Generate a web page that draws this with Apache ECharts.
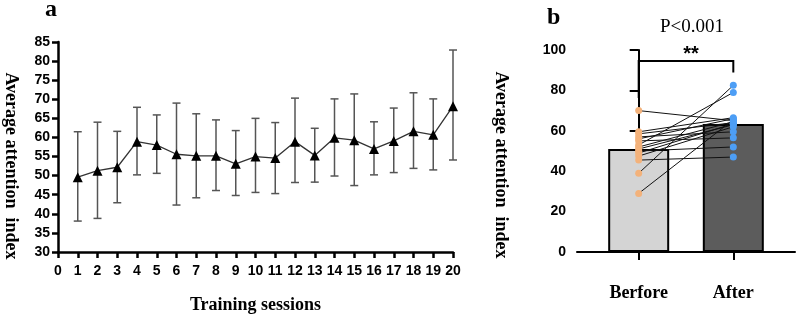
<!DOCTYPE html>
<html>
<head>
<meta charset="utf-8">
<script src="https://cdn.jsdelivr.net/npm/echarts@6/dist/echarts.min.js"></script>
<style>
  html, body { margin: 0; padding: 0; background: #fff; }
  #chart { width: 797px; height: 315px; }
</style>
</head>
<body>
<div id="chart"></div>
<script>
// panel a: attention index per training session (mean with error bar)
const sessions = [1, 2, 3, 4, 5, 6, 7, 8, 9, 10, 11, 12, 13, 14, 15, 16, 17, 18, 19, 20];
const sessionMean = [49.6, 51.3, 52.2, 58.9, 58.0, 55.6, 55.2, 55.2, 53.1, 55.0, 54.6, 58.9, 55.3, 59.9, 59.3, 57.0, 59.1, 61.6, 60.7, 68.2];
const sessionLow = [38.1, 38.8, 42.9, 50.2, 50.6, 42.3, 44.2, 46.1, 44.8, 45.6, 45.3, 48.2, 48.3, 49.9, 47.4, 50.2, 50.8, 51.9, 51.5, 54.1];
const sessionHigh = [61.5, 64.0, 61.6, 67.9, 65.9, 69.0, 66.2, 64.6, 61.8, 65.0, 63.9, 70.3, 62.4, 70.1, 71.4, 64.1, 67.7, 71.7, 70.1, 82.9];

// panel b: before / after comparison
const groups = ['Berfore', 'After'];
const groupMean = [51.0, 63.4];
const beforeVals = [70, 59.5, 58.5, 57, 56, 55, 53, 52, 51, 50, 49, 47.5, 45.5, 39, 29];
const afterVals = [65, 66.5, 64, 59.5, 66, 56.5, 79, 64.5, 63, 52, 63.5, 62, 47, 82.5, 65.5];
const bracket = [76.2, 94.6, 88.9]; // left leg end, top, right leg end
const pText = 'P<0.001';
const sigText = '**';

const serif = '"Liberation Serif", "Times New Roman", serif';
const sans = '"Liberation Sans", Arial, sans-serif';

const chart = echarts.init(document.getElementById('chart'));

const tickLabel = { color: '#000', fontFamily: sans, fontWeight: 'bold', fontSize: 14 };
const axisName = { color: '#000', fontFamily: serif, fontWeight: 'bold', fontSize: 18 };

const option = {
  animation: false,
  title: [
    { text: 'a', left: 40, top: -7, textStyle: { fontFamily: serif, fontWeight: 'bold', fontSize: 24, color: '#000' } },
    { text: 'b', left: 542, top: 1, textStyle: { fontFamily: serif, fontWeight: 'bold', fontSize: 24, color: '#000' } },
    { text: pText, left: 687, top: 13, textAlign: 'center', textStyle: { fontFamily: serif, fontWeight: 'normal', fontSize: 19, color: '#000' } },
    { text: sigText, left: 686, top: 39, textAlign: 'center', textStyle: { fontFamily: sans, fontWeight: 'bold', fontSize: 20, color: '#000' } }
  ],
  grid: [
    { left: 58, top: 42, width: 395, height: 210, outerBoundsMode: 'none', containLabel: false },
    { left: 577, top: 50, width: 218, height: 202, outerBoundsMode: 'none', containLabel: false }
  ],
  xAxis: [
    {
      gridIndex: 0, type: 'value', min: 0, max: 20, interval: 1,
      name: 'Training sessions', nameLocation: 'middle', nameGap: 44,
      nameTextStyle: { color: '#000', fontFamily: serif, fontWeight: 'bold', fontSize: 18 },
      axisLine: { lineStyle: { color: '#000', width: 2.5 } },
      axisTick: { length: 6, lineStyle: { color: '#000', width: 2.5 } },
      axisLabel: Object.assign({ margin: 12 }, tickLabel),
      splitLine: { show: false }
    },
    {
      gridIndex: 1, type: 'value', min: -0.652, max: 1.652,
      axisLine: { lineStyle: { color: '#000', width: 2 } },
      axisTick: { customValues: [0, 1], length: 8, lineStyle: { color: '#000', width: 2 } },
      axisLabel: {
        customValues: [0, 1], margin: 32, color: '#000', fontFamily: serif, fontWeight: 'bold', fontSize: 18,
        formatter: (v) => groups[Math.round(v)]
      },
      splitLine: { show: false }
    }
  ],
  yAxis: [
    {
      gridIndex: 0, type: 'value', min: 30, max: 85, interval: 5,
      name: 'Average attention  index', nameLocation: 'middle', nameGap: 38, nameRotate: -90,
      nameTextStyle: Object.assign({ padding: [0, 0, 0, 38] }, axisName),
      axisLine: { show: true, lineStyle: { color: '#000', width: 2.5 } },
      axisTick: { show: true, length: 6, lineStyle: { color: '#000', width: 2.5 } },
      axisLabel: Object.assign({ margin: 8 }, tickLabel),
      splitLine: { show: false }
    },
    {
      gridIndex: 1, type: 'value', min: 0, max: 100, interval: 20,
      name: 'Average attention  index', nameLocation: 'middle', nameGap: 67, nameRotate: -90,
      nameTextStyle: Object.assign({ padding: [0, 0, 0, 28] }, axisName),
      axisLine: { show: true, lineStyle: { color: '#000', width: 2 } },
      axisTick: { show: true, length: 9, lineStyle: { color: '#000', width: 2 } },
      axisLabel: Object.assign({ margin: 11 }, tickLabel),
      splitLine: { show: false }
    }
  ],
  series: [
    {
      type: 'custom',
      xAxisIndex: 0, yAxisIndex: 0,
      data: sessions.map((s, i) => [s, sessionLow[i], sessionHigh[i]]),
      renderItem: function (params, api) {
        const lo = api.coord([api.value(0), api.value(1)]);
        const hi = api.coord([api.value(0), api.value(2)]);
        const w = 4;
        const style = { stroke: '#555', lineWidth: 1.5 };
        return {
          type: 'group',
          children: [
            { type: 'line', shape: { x1: hi[0], y1: hi[1], x2: lo[0], y2: lo[1] }, style: style },
            { type: 'line', shape: { x1: hi[0] - w, y1: hi[1], x2: hi[0] + w, y2: hi[1] }, style: style },
            { type: 'line', shape: { x1: lo[0] - w, y1: lo[1], x2: lo[0] + w, y2: lo[1] }, style: style }
          ]
        };
      },
      z: 2
    },
    {
      type: 'line',
      xAxisIndex: 0, yAxisIndex: 0,
      data: sessions.map((s, i) => [s, sessionMean[i]]),
      symbol: 'triangle', symbolSize: 10,
      lineStyle: { color: '#333', width: 1.3 },
      itemStyle: { color: '#000' },
      z: 3
    },
    {
      type: 'bar',
      xAxisIndex: 1, yAxisIndex: 1,
      barWidth: 61,
      data: [
        { value: [0, groupMean[0]], itemStyle: { color: '#d4d4d4' } },
        { value: [1, groupMean[1]], itemStyle: { color: '#5c5c5c' } }
      ],
      itemStyle: { borderColor: '#000', borderWidth: 2 },
      z: 1
    },
    {
      type: 'custom',
      xAxisIndex: 1, yAxisIndex: 1,
      data: beforeVals.map((b, i) => [b, afterVals[i]]),
      renderItem: function (params, api) {
        const p1 = api.coord([0, api.value(0)]);
        const p2 = api.coord([1, api.value(1)]);
        return { type: 'line', shape: { x1: p1[0], y1: p1[1], x2: p2[0], y2: p2[1] }, style: { stroke: '#111', lineWidth: 1 } };
      },
      z: 3
    },
    {
      type: 'scatter',
      xAxisIndex: 1, yAxisIndex: 1,
      data: beforeVals.map((v) => [0, v]),
      symbolSize: 7,
      itemStyle: { color: '#f3b27b', opacity: 1 },
      z: 4
    },
    {
      type: 'scatter',
      xAxisIndex: 1, yAxisIndex: 1,
      data: afterVals.map((v) => [1, v]),
      symbolSize: 7,
      itemStyle: { color: '#4d9ef5', opacity: 1 },
      z: 4
    },
    {
      type: 'custom',
      xAxisIndex: 1, yAxisIndex: 1,
      data: [bracket],
      renderItem: function (params, api) {
        const a = api.coord([0, api.value(0)]);
        const b = api.coord([0, api.value(1)]);
        const c = api.coord([1, api.value(1)]);
        const d = api.coord([1, api.value(2)]);
        return { type: 'polyline', shape: { points: [a, b, c, d] }, style: { stroke: '#000', lineWidth: 2, fill: null } };
      },
      z: 5
    }
  ]
};

chart.setOption(option);
</script>
</body>
</html>
